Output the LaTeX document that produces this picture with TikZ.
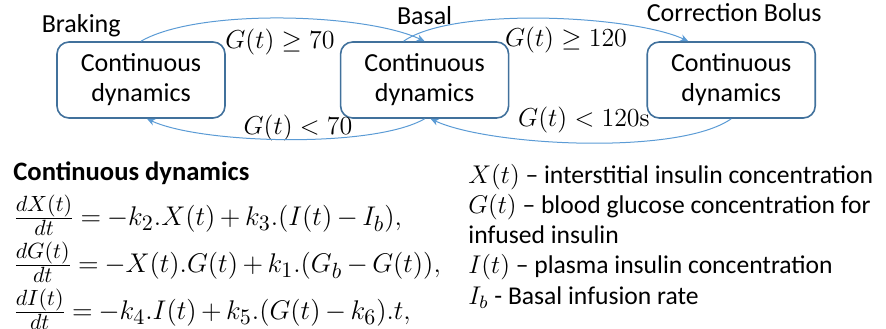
\RequirePackage{fix-cm}
\documentclass[tikz,border=0pt]{standalone}
\usepackage[no-math]{fontspec}
\setmainfont{Carlito}
\usepackage{amsmath,amssymb}
\DeclareMathSizes{13.5}{13.5}{11}{8}
\usepackage{tikz}
\usetikzlibrary{arrows.meta,positioning}
\definecolor{boxblue}{RGB}{65,113,156}
\definecolor{flowblue}{RGB}{91,155,213}

\begin{document}
\begin{tikzpicture}[
  font=\fontsize{13}{15}\selectfont,
  box/.style={draw=boxblue,line width=0.8pt,rounded corners=6pt,minimum width=84pt,minimum height=38pt,align=center,inner sep=0pt},
  lbl/.style={inner sep=0pt},
  guard/.style={inner sep=0pt},
  flow/.style={draw=flowblue,line width=0.5pt,-{Stealth[length=4pt,width=3.5pt]}},
  eqn/.style={anchor=base west,inner sep=0pt,font={\fontsize{13.5}{16}\selectfont\medmuskip=3mu\thickmuskip=4mu}},
  note/.style={anchor=base west,inner sep=0pt,font=\fontsize{12.8}{15.15}\selectfont,align=left}
]
\useasboundingbox (0,0) rectangle (443pt,164pt);
% the three modes
\node[box] (brk) at (70.5pt,124pt) {Continuous\\dynamics};
\node[box,right=57pt of brk] (bas) {Continuous\\dynamics};
\node[box,right=68.5pt of bas] (cor) {Continuous\\dynamics};
\node[lbl,above=2pt of brk.north west,xshift=12.5pt] (brkname) {Braking};
\node[lbl,above=8pt of bas] (basname) {Basal};
\node[lbl,above=9.5pt of cor,xshift=1.5pt] (corname) {Correction Bolus};
% switching conditions
\node[guard] (g1) at (140pt,143pt) {$G(t) \geq 70$};
\node[guard] (g2) at (283pt,144pt) {$G(t) \geq 120$};
\node[guard] (g3) at (149pt,100pt) {$G(t) < 70$};
\node[guard] (g4) at (292pt,104pt) {$G(t) < 120\mathrm{s}$};
\draw[flow] (brk.north) to[out=30,in=155,looseness=0.6] (bas.north);
\draw[flow] ([xshift=-10.5pt]bas.north) to[out=35,in=155,looseness=0.55] ([xshift=-21.5pt]cor.north);
\draw[flow] (cor.south) to[out=-145,in=-25,looseness=0.55] ([xshift=3pt]bas.south);
\draw[flow] (bas.south) to[out=-150,in=-25,looseness=0.55] ([xshift=3pt]brk.south);
% model equations
\node[anchor=base west,inner sep=0pt,font=\bfseries\fontsize{13.3}{15}\selectfont] (title) at (6.5pt,74pt) {Continuous dynamics};
\node[eqn] (eq1) at (6.5pt,51.25pt) {$\tfrac{dX(t)}{dt} = -k_2.X(t) + k_3.(I(t) - I_b),$};
\node[eqn] (eq2) at (6.5pt,27.75pt) {$\tfrac{dG(t)}{dt} = -X(t).G(t) + k_1.(G_b - G(t)),$};
\node[eqn] (eq3) at (6.5pt,4.25pt) {$\tfrac{dI(t)}{dt} = -k_4.I(t) + k_5.(G(t) - k_6).t,$};
\node[note] (vars) at (234pt,11.9pt) {$X(t)$ -- interstitial insulin concentration\\
  $G(t)$ -- blood glucose concentration for\\
  infused insulin\\
  $I(t)$ -- plasma insulin concentration\\
  $I_b$ - Basal infusion rate};
\end{tikzpicture}
\end{document}
